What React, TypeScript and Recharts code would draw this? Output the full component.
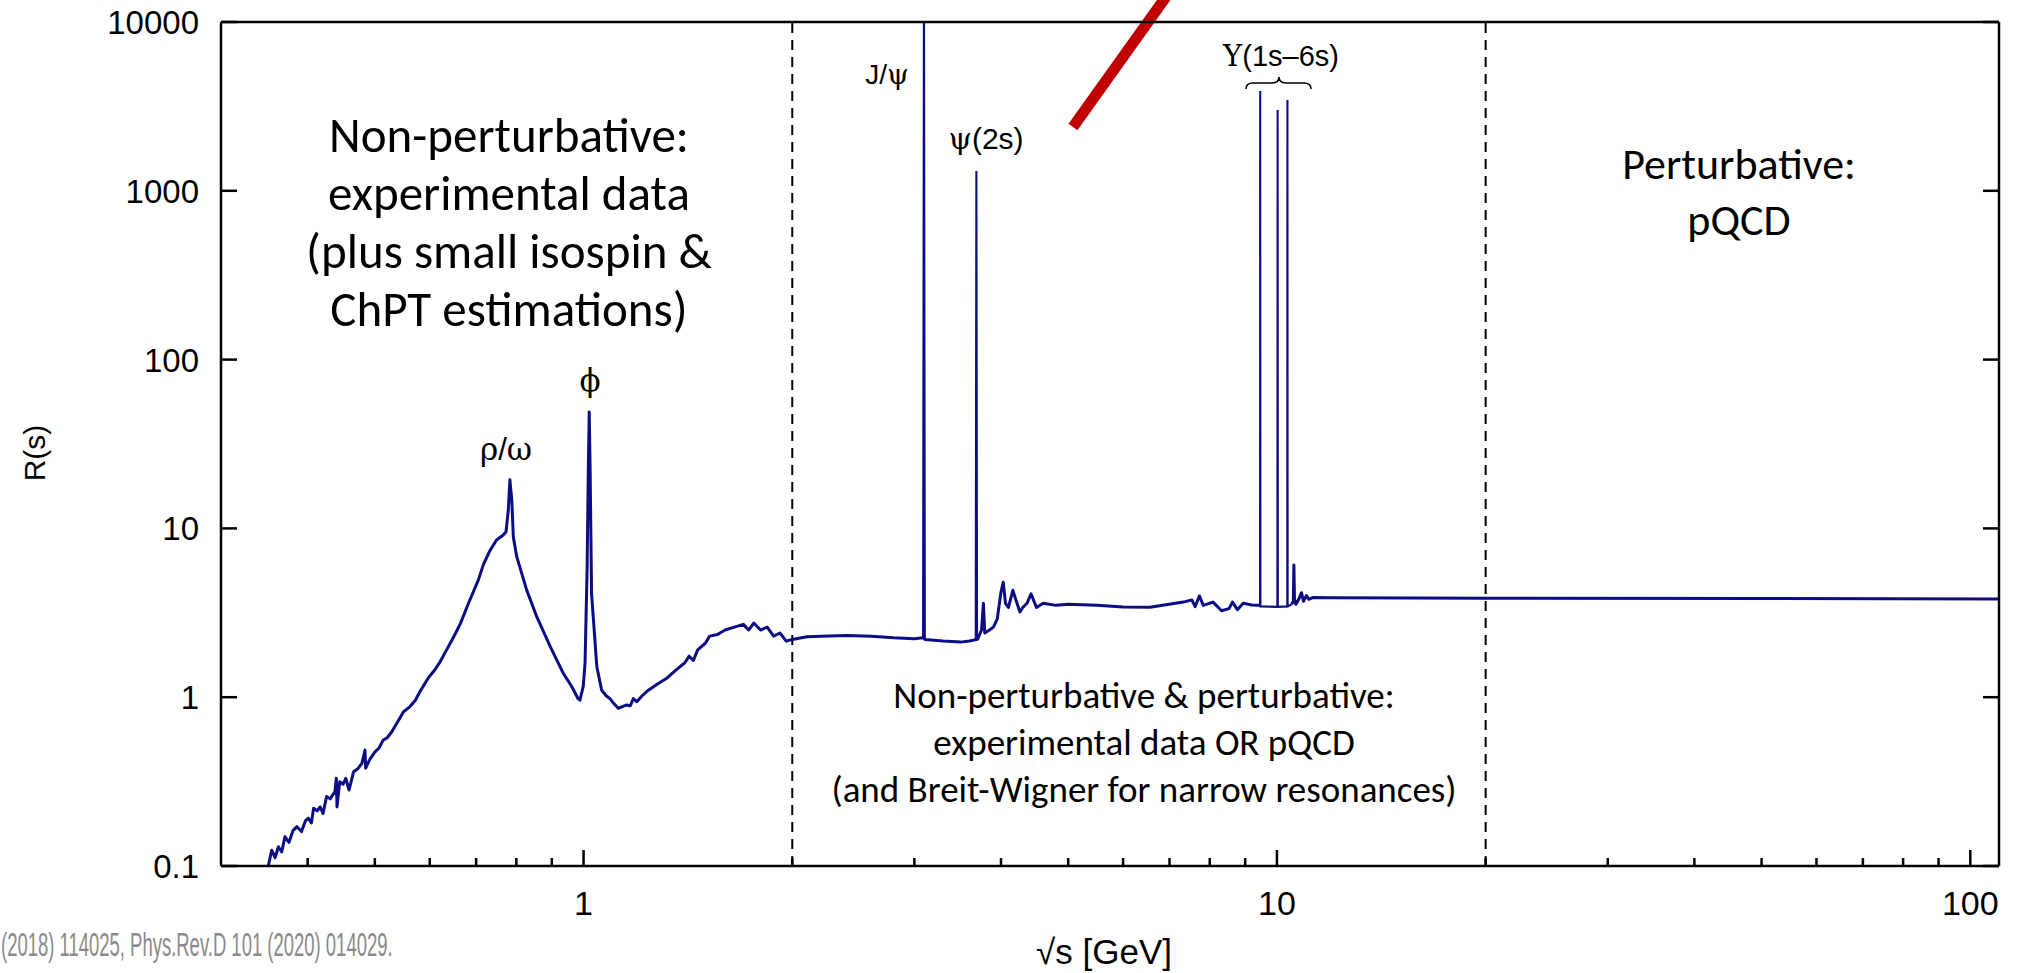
import React from "react";
import { LineChart, Line, XAxis, YAxis, ReferenceLine, Customized } from "recharts";

type Pt = [number, number | null];

// sqrt(s) [GeV] vs R(s)
const lightQuarks: Pt[] = [
  [0.345, 0.09], [0.351, 0.1], [0.355, 0.124], [0.359, 0.112], [0.363, 0.13], [0.367, 0.121],
  [0.371, 0.149], [0.376, 0.138], [0.381, 0.162], [0.386, 0.171], [0.392, 0.16], [0.397, 0.185],
  [0.401, 0.192], [0.405, 0.18], [0.408, 0.22], [0.413, 0.212], [0.417, 0.224], [0.421, 0.205],
  [0.426, 0.258], [0.431, 0.25], [0.438, 0.276], [0.44, 0.331], [0.441, 0.224], [0.445, 0.316],
  [0.45, 0.305], [0.454, 0.331], [0.459, 0.282], [0.466, 0.362], [0.472, 0.375], [0.479, 0.405],
  [0.484, 0.486], [0.485, 0.38], [0.492, 0.43], [0.5, 0.473], [0.507, 0.5], [0.514, 0.557],
  [0.521, 0.575], [0.529, 0.624], [0.54, 0.72], [0.55, 0.82], [0.562, 0.88], [0.572, 0.96],
  [0.581, 1.08], [0.597, 1.3], [0.61, 1.45], [0.621, 1.62], [0.632, 1.85], [0.642, 2.08],
  [0.654, 2.4], [0.664, 2.72], [0.682, 3.58], [0.695, 4.3], [0.705, 4.94], [0.717, 6.1],
  [0.733, 7.4], [0.749, 8.53], [0.766, 9.14], [0.773, 9.55], [0.779, 12.9], [0.783, 19.4],
  [0.788, 14.7], [0.792, 8.9], [0.801, 6.8], [0.828, 4.31], [0.856, 3.0], [0.895, 2.0],
  [0.935, 1.385], [0.961, 1.16], [0.982, 0.98], [0.988, 0.96], [0.999, 1.16], [1.005, 1.6],
  [1.012, 5.9], [1.016, 23], [1.019, 49], [1.022, 23], [1.027, 4.1], [1.045, 1.52],
  [1.062, 1.1], [1.078, 1.02], [1.092, 0.98], [1.105, 0.92], [1.122, 0.86], [1.138, 0.88],
  [1.154, 0.9], [1.168, 0.89], [1.18, 0.98], [1.193, 0.94], [1.215, 1.02], [1.24, 1.1],
];

const interResonance: Pt[] = [
  [1.28, 1.2], [1.32, 1.3], [1.36, 1.45], [1.4, 1.6], [1.42, 1.75], [1.44, 1.65], [1.46, 1.9],
  [1.5, 2.1], [1.52, 2.3], [1.56, 2.35], [1.6, 2.5], [1.65, 2.6], [1.7, 2.7], [1.73, 2.5],
  [1.76, 2.75], [1.8, 2.5], [1.84, 2.6], [1.88, 2.3], [1.92, 2.4], [1.96, 2.15], [2.0, 2.2],
];

const charm: Pt[] = [
  [2.1, 2.28], [2.2, 2.3], [2.4, 2.32], [2.6, 2.3], [2.8, 2.25], [3.0, 2.22], [3.088, 2.25],
  [3.106, 2.2], [3.3, 2.15], [3.5, 2.12], [3.6, 2.15], [3.7, 2.2], [3.75, 2.5], [3.773, 3.6],
  [3.79, 2.4], [3.85, 2.5], [3.9, 2.6], [3.95, 2.9], [4.0, 4.2], [4.03, 4.8], [4.06, 3.6],
  [4.1, 3.4], [4.16, 4.3], [4.2, 3.8], [4.26, 3.2], [4.3, 3.4], [4.36, 3.6], [4.42, 4.1],
  [4.5, 3.4], [4.6, 3.6], [4.8, 3.5], [5.0, 3.55], [5.5, 3.5], [6.0, 3.42], [6.56, 3.41],
  [7.33, 3.66], [7.54, 3.77], [7.62, 3.44], [7.73, 3.98], [7.83, 3.5], [8.09, 3.66],
  [8.32, 3.25], [8.53, 3.35], [8.63, 3.66], [8.77, 3.3], [8.94, 3.6], [9.2, 3.52], [9.44, 3.5],
];

const bottomAndAbove: Pt[] = [
  [10.5, 3.55], [10.56, 3.7], [10.58, 6.07], [10.6, 3.8], [10.65, 3.55], [10.75, 3.8],
  [10.85, 4.16], [10.92, 3.7], [11.03, 4.0], [11.12, 3.8], [11.28, 3.9], [12, 3.88],
  [20, 3.86], [50, 3.84], [110, 3.82],
];

// narrow resonances (Breit-Wigner), drawn thinner
const narrow: Pt[] = [
  [3.088, 2.25], [3.097, 20000], [3.106, 2.2], [3.2, null],
  [3.678, 2.2], [3.686, 1310], [3.694, 2.2], [3.72, null],
  [9.44, 3.5], [9.455, 3.45], [9.46, 3900], [9.466, 3.45], [10.015, 3.43], [10.023, 3010],
  [10.03, 3.43], [10.35, 3.45], [10.355, 3450], [10.362, 3.45], [10.5, 3.55],
];

const xMajor = [1, 10, 100];
const xTicks = [0.4, 0.5, 0.6, 0.7, 0.8, 0.9, 1, 2, 3, 4, 5, 6, 7, 8, 9, 10, 20, 30, 40, 50, 60, 70, 80, 90, 100];
const yTicks = [0.1, 1, 10, 100, 1000, 10000];

const toRows = (pts: Pt[]) => pts.map(([x, r]) => ({ x, r }));
const continuumRows = [
  ...toRows(lightQuarks),
  ...toRows(interResonance),
  ...toRows(charm),
  { x: 9.9, r: null },
  ...toRows(bottomAndAbove),
];
const narrowRows = toRows(narrow);

const INK = "#0c0c84";
const SANS = "'Liberation Sans', Arial, sans-serif";
const SERIF = "'DejaVu Serif', 'Liberation Serif', serif";
const SLIDE = "Carlito, Lato, sans-serif";

const BottomTick = (p: any) => {
  const major = xMajor.includes(p.payload.value);
  return (
    <g>
      <line x1={p.x} x2={p.x} y1={p.y} y2={p.y - (major ? 16 : 8)} stroke="#000" strokeWidth={2.5} />
      {major && (
        <text x={p.x} y={p.y + 49} textAnchor="middle" fontFamily={SANS} fontSize={34} fill="#000">
          {p.payload.value}
        </text>
      )}
    </g>
  );
};

const TopTick = (p: any) => {
  const major = xMajor.includes(p.payload.value);
  return <line x1={p.x} x2={p.x} y1={p.y} y2={p.y + (major ? 16 : 8)} stroke="#000" strokeWidth={2.5} />;
};

const LeftTick = (p: any) => (
  <g>
    <line x1={p.x} x2={p.x + 16} y1={p.y} y2={p.y} stroke="#000" strokeWidth={2.5} />
    <text x={p.x - 22} y={p.y + 12} textAnchor="end" fontFamily={SANS} fontSize={33} fill="#000">
      {p.payload.value}
    </text>
  </g>
);

const RightTick = (p: any) => (
  <line x1={p.x - 16} x2={p.x} y1={p.y} y2={p.y} stroke="#000" strokeWidth={2.5} />
);

const Annotations = () => (
  <g>
    <text textAnchor="middle" fontFamily={SLIDE} fontSize={49} fill="#000">
      <tspan x={509} y={152}>Non-perturbative:</tspan>
      <tspan x={509} y={210}>experimental data</tspan>
      <tspan x={509} y={268}>(plus small isospin &amp;</tspan>
      <tspan x={509} y={326}>ChPT estimations)</tspan>
    </text>
    <text textAnchor="middle" fontFamily={SLIDE} fontSize={44} fill="#000">
      <tspan x={1739} y={179}>Perturbative:</tspan>
      <tspan x={1739} y={235}>pQCD</tspan>
    </text>
    <text textAnchor="middle" fontFamily={SLIDE} fontSize={37} fill="#000">
      <tspan x={1144} y={708}>Non-perturbative &amp; perturbative:</tspan>
      <tspan x={1144} y={755}>experimental data OR pQCD</tspan>
      <tspan x={1144} y={802}>(and Breit-Wigner for narrow resonances)</tspan>
    </text>

    <text x={506} y={460} textAnchor="middle" fontFamily={SANS} fontSize={31} fill="#000">
      <tspan fontFamily={SERIF}>ρ</tspan>/<tspan fontFamily={SERIF}>ω</tspan>
    </text>
    <text x={590} y={391} textAnchor="middle" fontFamily={SERIF} fontSize={31} fill="#000">ϕ</text>
    <text x={909} y={84} textAnchor="end" fontFamily={SANS} fontSize={28} fill="#000">
      J/<tspan fontFamily={SERIF}>ψ</tspan>
    </text>
    <text x={986} y={149} textAnchor="middle" fontFamily={SANS} fontSize={30} fill="#000">
      <tspan fontFamily={SERIF}>ψ</tspan>(2s)
    </text>
    <text x={1281} y={66} textAnchor="middle" fontFamily={SANS} fontSize={29} fill="#000">
      <tspan fontFamily={SERIF}>Υ</tspan>(1s–6s)
    </text>
    <path
      d="M1246,89 Q1246,83 1253,83 L1272,83 Q1279,83 1279,77 Q1279,83 1286,83 L1304,83 Q1311,83 1311,89"
      fill="none" stroke="#000" strokeWidth={1.6}
    />

    <text transform="translate(45,453) rotate(-90)" textAnchor="middle" fontFamily={SANS} fontSize={30} fill="#000">R(s)</text>
    <text x={1104} y={964} textAnchor="middle" fontFamily={SANS} fontSize={35} fill="#000">√s [GeV]</text>
    <text transform="translate(1,956) scale(0.56,1)" fontFamily={SANS} fontSize={33} fill="#8a8a8a">
      (2018) 114025, Phys.Rev.D 101 (2020) 014029.
    </text>
  </g>
);

export default function App() {
  return (
    <div style={{ position: "absolute", left: 0, top: 0, background: "#fff" }}>
      <LineChart width={2020} height={973} margin={{ top: 20, right: 19, bottom: 47, left: 121 }}>
        <XAxis
          xAxisId="b" dataKey="x" type="number" scale="log" domain={[0.3, 110]} allowDataOverflow
          ticks={xTicks} interval={0} tickSize={0} tickMargin={0} height={60}
          axisLine={{ stroke: "#000", strokeWidth: 2.5 }} tickLine={false} tick={<BottomTick />}
        />
        <XAxis
          xAxisId="t" orientation="top" type="number" scale="log" domain={[0.3, 110]} allowDataOverflow
          ticks={xTicks} interval={0} tickSize={0} tickMargin={0} height={2}
          axisLine={{ stroke: "#000", strokeWidth: 2.5 }} tickLine={false} tick={<TopTick />}
        />
        <YAxis
          yAxisId="l" type="number" scale="log" domain={[0.1, 10000]} allowDataOverflow
          ticks={yTicks} interval={0} tickSize={0} tickMargin={0} width={100}
          axisLine={{ stroke: "#000", strokeWidth: 2.5 }} tickLine={false} tick={<LeftTick />}
        />
        <YAxis
          yAxisId="r" orientation="right" type="number" scale="log" domain={[0.1, 10000]} allowDataOverflow
          ticks={yTicks} interval={0} tickSize={0} tickMargin={0} width={2}
          axisLine={{ stroke: "#000", strokeWidth: 2.5 }} tickLine={false} tick={<RightTick />}
        />

        <ReferenceLine xAxisId="b" yAxisId="l" x={2} stroke="#000" strokeWidth={2} strokeDasharray="10 7" />
        <ReferenceLine xAxisId="b" yAxisId="l" x={20} stroke="#000" strokeWidth={2} strokeDasharray="10 7" />

        <Line
          xAxisId="b" yAxisId="l" data={continuumRows} dataKey="r" type="linear"
          stroke={INK} strokeWidth={3} strokeLinejoin="round" dot={false} activeDot={false}
          connectNulls={false} isAnimationActive={false}
        />
        <Line
          xAxisId="b" yAxisId="l" data={narrowRows} dataKey="r" type="linear"
          stroke={INK} strokeWidth={2.1} dot={false} activeDot={false} connectNulls={false}
          isAnimationActive={false}
        />

        <ReferenceLine
          xAxisId="b" yAxisId="l" ifOverflow="visible"
          segment={[{ x: 5.08, y: 2388 }, { x: 7.2, y: 17740 }]}
          stroke="#c00000" strokeWidth={11}
        />
        <Customized component={<Annotations />} />
      </LineChart>
    </div>
  );
}
